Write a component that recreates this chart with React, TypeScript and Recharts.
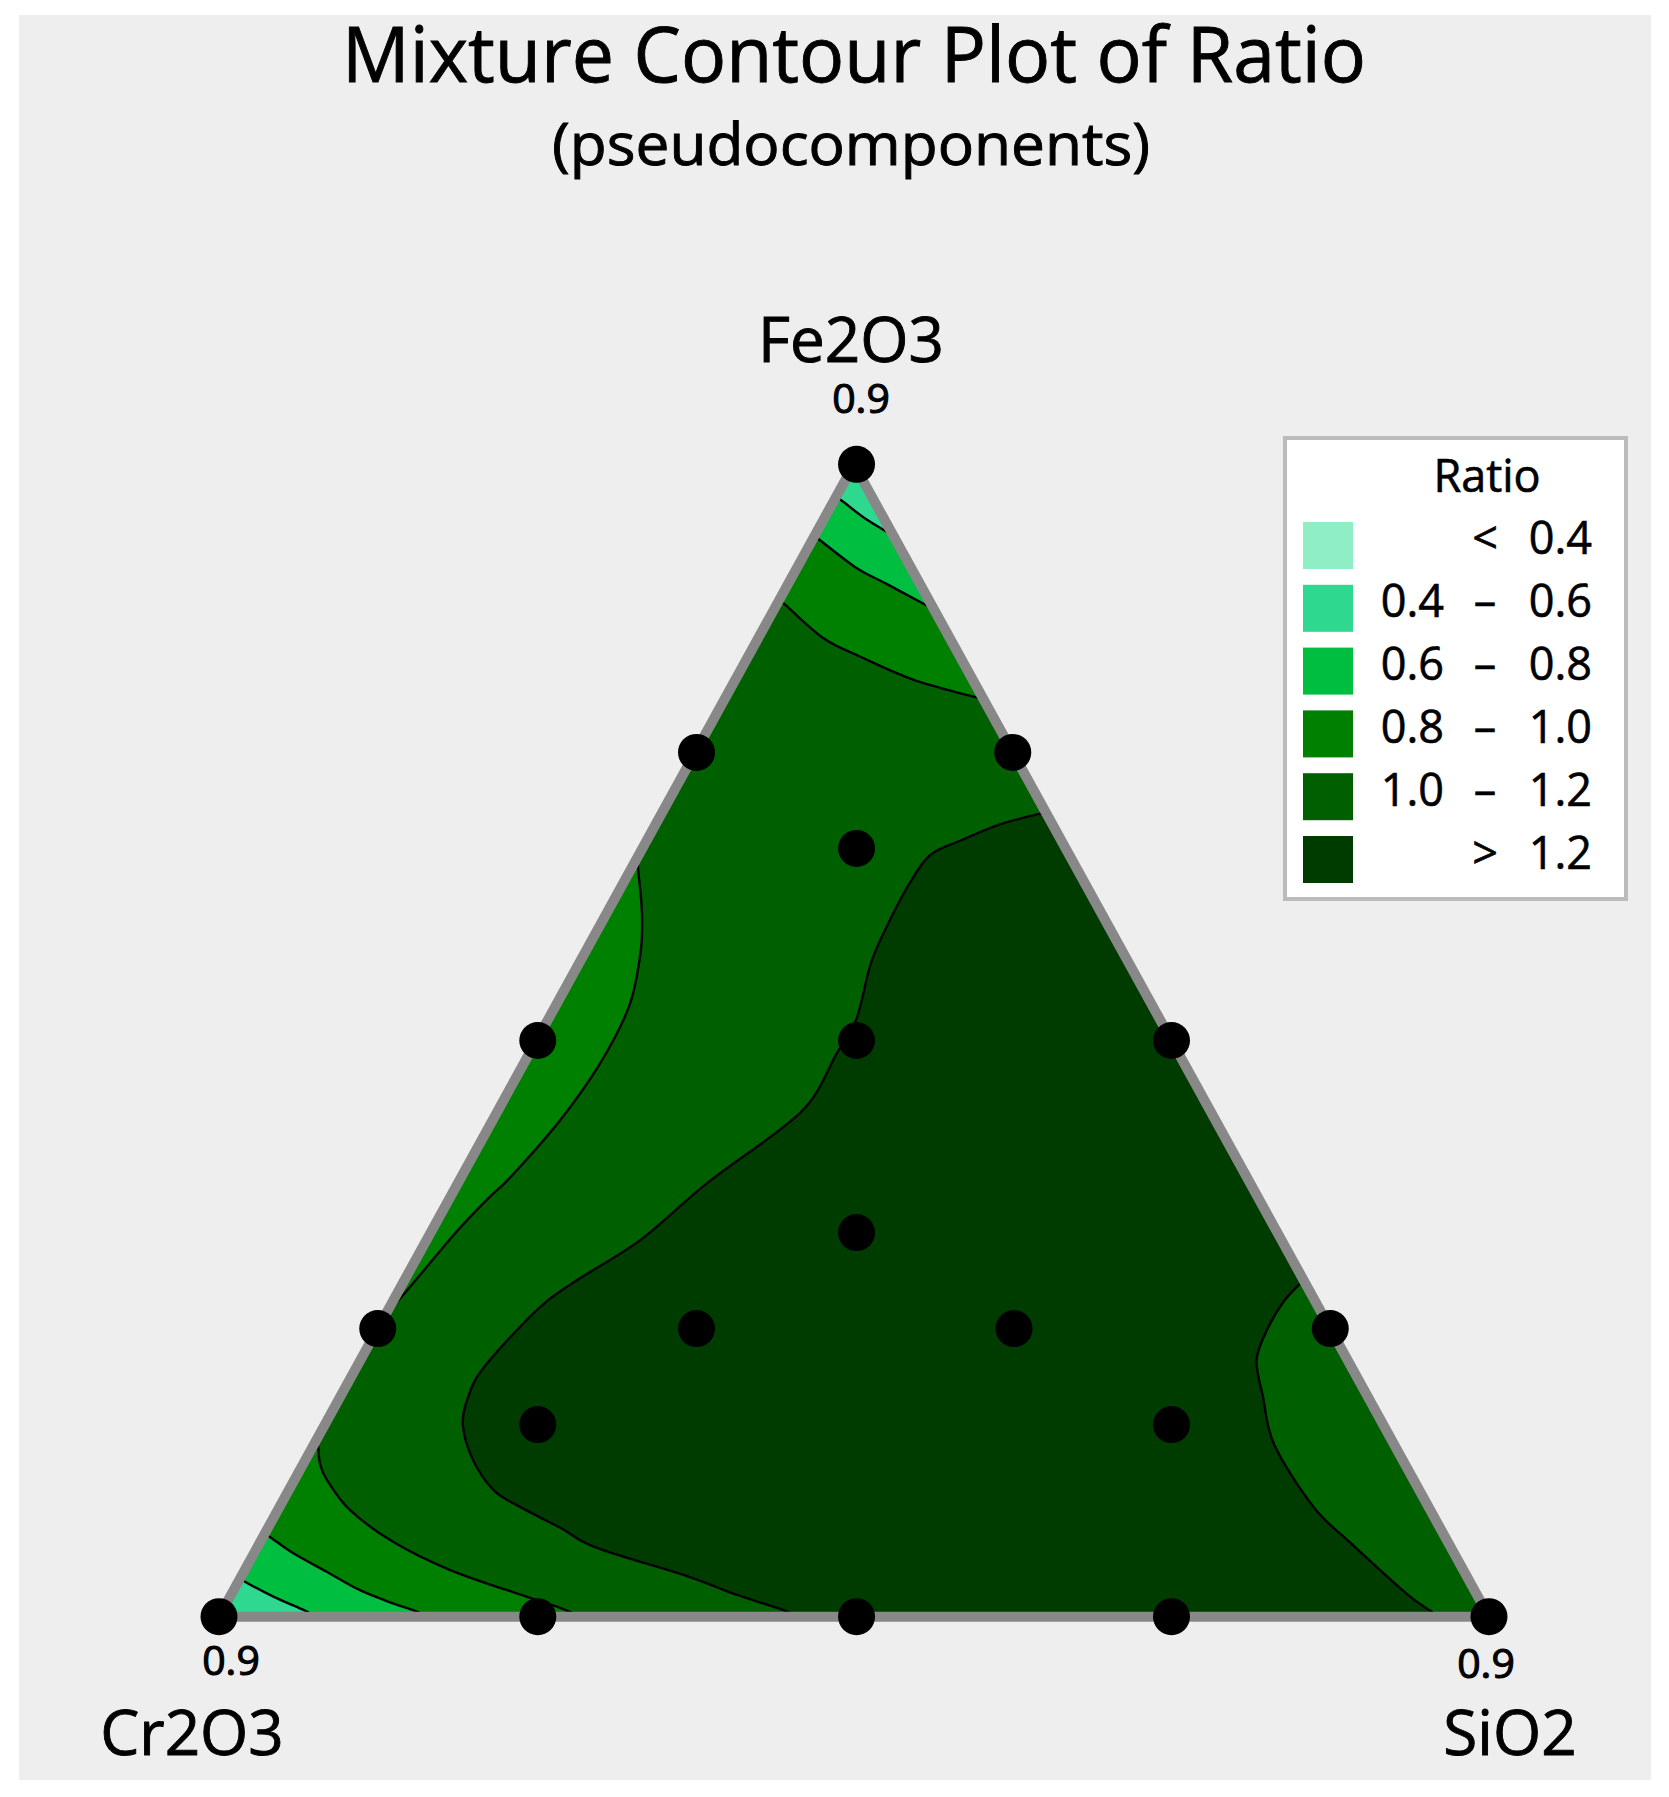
import { Scatter, ScatterChart, XAxis, YAxis } from "recharts";

// x = SiO2 + Fe2O3 / 2, y = Fe2O3, both in percent of the pseudocomponent range
type Pt = [number, number];

const designPoints: Pt[] = [
  [50.2, 100], [37.6, 75], [62.5, 75], [25.1, 50], [75, 50], [50.2, 66.67], [50.2, 50], [50.2, 33.33],
  [37.6, 25], [62.6, 25], [12.5, 25], [87.5, 25], [25.1, 16.67], [75, 16.67],
  [0, 0], [25.1, 0], [50.2, 0], [75, 0], [100, 0],
];

const triangle: Pt[] = [[0, 0], [50, 100], [100, 0], [0, 0]];

// contour lines
const topLevel06: Pt[] = [[48.6, 97.2], [49.2, 96.7], [51, 95.2], [53.1, 93.8]];
const topLevel08: Pt[] = [[46.9, 93.8], [47.45, 93.3], [50.2, 91], [52.6, 89.6], [55.8, 87.7], [56.3, 87.4]];
const topLevel10: Pt[] = [[44.1, 88.2], [44.6, 87.8], [47.6, 84.9], [50.5, 83.3], [54.7, 81.3], [60.2, 79.6]];

const leftLevel10: Pt[] = [
  [33, 66], [33, 64.9], [33.3, 61.2], [33.2, 57.7], [32.3, 53], [30, 48], [26.8, 43],
  [23, 38.2], [21.2, 36.3], [18.7, 33.4], [15.1, 28.7], [13, 26],
];

const cornerLevel06: Pt[] = [[1.7, 3.4], [2.05, 3.04], [4.28, 1.74], [6.77, 0.52], [7.6, 0]];
const cornerLevel08: Pt[] = [
  [3.6, 7.2], [4.15, 6.8], [5.85, 5.5], [8.48, 3.9], [11.1, 2.3], [13.7, 1.16], [15.4, 0.52], [16.4, 0],
];
const cornerLevel10: Pt[] = [
  [7.7, 15.4], [7.82, 14.6], [7.95, 13.3], [8.48, 11.9], [10.3, 9.26], [13.7, 6.5],
  [18.2, 4.05], [24.2, 1.74], [26.6, 0.87], [28.5, 0],
];

const mainLevel12: Pt[] = [
  [65.1, 69.8], [61.6, 68.8], [58.5, 67.4], [56, 66.1], [54.3, 63.5], [52.5, 59.7],
  [51.3, 56.6], [50.2, 51.9], [48.6, 48.8], [46.7, 44.9], [44.1, 42.2], [38.4, 37.6], [33.2, 32.7],
  [27.9, 29], [25.1, 26.7], [20.9, 21.7], [19.6, 19], [19.2, 16.6], [20, 13.6], [21.6, 11],
  [23.4, 9.7], [26.9, 7.7], [29.7, 6], [36.9, 3.5], [40.5, 2], [44.6, 0.5], [45.2, 0],
];
const rightLevel12: Pt[] = [
  [85.4, 29.2], [83.8, 27.3], [82.4, 24.6], [81.7, 22.2], [82.2, 19.1], [83.1, 14.9],
  [86.2, 9.5], [89.1, 6.4], [93.5, 2], [95.4, 0.5], [96, 0],
];

const apex: Pt[] = [[50, 100]];
const leftCorner: Pt[] = [[0, 0]];

const legendColors = ["#90EEC6", "#2ED98F", "#00BE40", "#008000", "#006000", "#003C00"];
const legendLow = ["", "0.4", "0.6", "0.8", "1.0", ""];
const legendSign = ["<", "–", "–", "–", "–", ">"];
const legendHigh = ["0.4", "0.6", "0.8", "1.0", "1.2", "1.2"];

// each region is a list of runs: contours are smoothed, the joins between runs stay straight
const regions: { color: string; runs: Pt[][] }[] = [
  { color: "#006000", runs: [[[0, 0]], [[50, 100]], [[100, 0]]] },
  { color: "#008000", runs: [topLevel10, apex] },
  { color: "#00BE40", runs: [topLevel08, apex] },
  { color: "#2ED98F", runs: [topLevel06, apex] },
  { color: "#008000", runs: [leftLevel10] },
  { color: "#008000", runs: [cornerLevel10, leftCorner] },
  { color: "#00BE40", runs: [cornerLevel08, leftCorner] },
  { color: "#2ED98F", runs: [cornerLevel06, leftCorner] },
  { color: "#003C00", runs: [mainLevel12, [...rightLevel12].reverse()] },
];

const contours = [
  topLevel06, topLevel08, topLevel10, leftLevel10,
  cornerLevel06, cornerLevel08, cornerLevel10, mainLevel12, rightLevel12,
];

const toData = (list: Pt[]) => list.map(([x, y]) => ({ x, y }));
const FONT = "'Open Sans', 'Noto Sans', sans-serif";

type XY = { x: number; y: number };

const smoothRun = (pts: XY[], first: boolean) => {
  let d = `${first ? "M" : "L"}${pts[0].x},${pts[0].y}`;
  for (let i = 0; i < pts.length - 1; i++) {
    const p0 = pts[Math.max(i - 1, 0)];
    const p1 = pts[i];
    const p2 = pts[i + 1];
    const p3 = pts[Math.min(i + 2, pts.length - 1)];
    d += `C${p1.x + (p2.x - p0.x) / 6},${p1.y + (p2.y - p0.y) / 6} ${p2.x - (p3.x - p1.x) / 6},${p2.y - (p3.y - p1.y) / 6} ${p2.x},${p2.y}`;
  }
  return d;
};

const regionPath = (points: XY[], runs: Pt[][]) => {
  let d = "";
  let at = 0;
  runs.forEach((run, i) => {
    d += smoothRun(points.slice(at, at + run.length), i === 0);
    at += run.length;
  });
  return d + "Z";
};

const App = () => {
  return (
    <div style={{ position: "absolute", left: 0, top: 0, width: 1669, height: 1797, background: "#fff" }}>
      <div style={{ position: "absolute", left: 19, top: 15, width: 1632, height: 1765, background: "#eeeeee" }} />
      <div style={{ position: "absolute", left: 0, top: 0 }}>
        <ScatterChart width={1669} height={1797} margin={{ top: 464.3, right: 180, bottom: 180.3, left: 219 }}>
          <XAxis type="number" dataKey="x" domain={[0, 100]} hide />
          <YAxis type="number" dataKey="y" domain={[0, 100]} hide />
          {regions.map((r, i) => (
            <Scatter
              key={`region-${i}`}
              data={toData(r.runs.flat())}
              isAnimationActive={false}
              shape={() => <g />}
              line={(p: any) => <path d={regionPath(p.points, r.runs)} fill={r.color} stroke="none" />}
            />
          ))}
          {contours.map((c, i) => (
            <Scatter
              key={`contour-${i}`}
              data={toData(c)}
              isAnimationActive={false}
              shape={() => <g />}
              line={(p: any) => <path d={smoothRun(p.points, true)} fill="none" stroke="#000" strokeWidth={2.4} />}
            />
          ))}
          <Scatter
            data={toData(triangle)}
            isAnimationActive={false}
            shape={() => <g />}
            line={(p: any) => (
              <path d={smoothRun([p.points[0], p.points[0]], true) + p.points.slice(1).map((q: XY) => `L${q.x},${q.y}`).join("")} fill="none" stroke="#888888" strokeWidth={10} strokeLinejoin="round" />
            )}
          />
          <Scatter
            data={toData(designPoints)}
            isAnimationActive={false}
            shape={(p: any) => <circle cx={p.cx} cy={p.cy} r={18.5} fill="#000" />}
          />
        </ScatterChart>
      </div>
      <svg width={1669} height={1797} style={{ position: "absolute", left: 0, top: 0, fontFamily: FONT }}>
        <g stroke="#000" strokeWidth={0.9}>
          <text x={854} y={82} fontSize={77} textAnchor="middle" textLength={1024} lengthAdjust="spacingAndGlyphs">
            Mixture Contour Plot of Ratio
          </text>
          <text x={851} y={165} fontSize={59} textAnchor="middle" textLength={598} lengthAdjust="spacingAndGlyphs">
            (pseudocomponents)
          </text>
          <text x={851} y={362} fontSize={62} textAnchor="middle">Fe2O3</text>
          <text x={192} y={1755} fontSize={62} textAnchor="middle">Cr2O3</text>
          <text x={1510} y={1755} fontSize={62} textAnchor="middle">SiO2</text>
        </g>
        <g stroke="#000" strokeWidth={1.1}>
          <text x={861} y={413} fontSize={41} textAnchor="middle">0.9</text>
          <text x={231} y={1675} fontSize={41} textAnchor="middle">0.9</text>
          <text x={1486} y={1678} fontSize={41} textAnchor="middle">0.9</text>
        </g>

        <rect x={1285} y={438} width={341} height={461} fill="#fff" stroke="#bbbbbb" strokeWidth={4} />
        <g stroke="#000" strokeWidth={0.6}>
          <text x={1487} y={492} fontSize={45} textAnchor="middle">Ratio</text>
          {legendColors.map((c, i) => {
            const top = 522 + i * 62.8;
            const base = 554 + i * 63;
            return (
              <g key={c}>
                <rect x={1303} y={top} width={50} height={47} fill={c} stroke="none" />
                <text x={1444} y={base} fontSize={45} textAnchor="end">{legendLow[i]}</text>
                <text x={1485} y={base} fontSize={45} textAnchor="middle">{legendSign[i]}</text>
                <text x={1592} y={base} fontSize={45} textAnchor="end">{legendHigh[i]}</text>
              </g>
            );
          })}
        </g>
      </svg>
    </div>
  );
};

export default App;
